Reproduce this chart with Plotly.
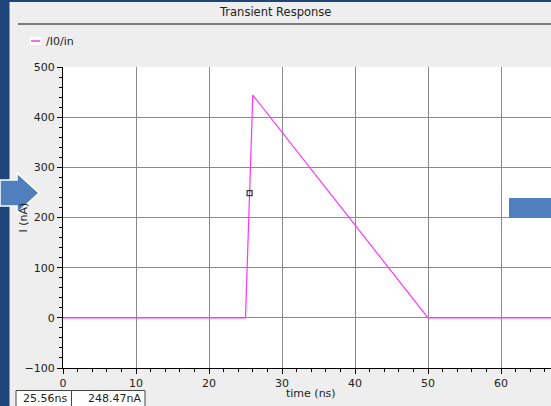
import plotly.graph_objects as go

# ---- data ----
time_ns = [0, 25.0, 26.0, 50.0, 66.85]
current_nA = [0, 0, 444, 0, 0]
cursor_time = [25.56]
cursor_val = [248.47]
x_ticks = [0, 10, 20, 30, 40, 50, 60]
y_ticks = [-100, 0, 100, 200, 300, 400, 500]

W, H = 551, 406
L, R, T, B = 63, 0, 67, 38
PW, PH = W - L - R, H - T - B

def px(x):
    return (x - L) / PW

def py(y):
    return (H - B - y) / PH

FONT = "DejaVu Sans"
PINK = "#ff33ff"

fig = go.Figure()
fig.add_trace(go.Scatter(x=time_ns, y=current_nA, mode="lines",
                         line=dict(color=PINK, width=1.2), name="/I0/in",
                         showlegend=False))
fig.add_trace(go.Scatter(x=cursor_time, y=cursor_val, mode="markers",
                         marker=dict(symbol="square-open", size=5,
                                     color="#333333", line=dict(width=1.2)),
                         showlegend=False))

shapes = []
# left dark strip and top strip
shapes.append(dict(type="rect", xref="paper", yref="paper", x0=px(0), x1=px(9.5),
                   y0=py(406), y1=py(0), fillcolor="#1f4478", line=dict(width=0),
                   layer="above"))
shapes.append(dict(type="rect", xref="paper", yref="paper", x0=px(0), x1=px(551),
                   y0=py(2), y1=py(0), fillcolor="#1f4478", line=dict(width=0),
                   layer="above"))
# title separator line
shapes.append(dict(type="line", xref="paper", yref="paper", x0=px(18), x1=px(551),
                   y0=py(24), y1=py(24), line=dict(color="#555555", width=1.5)))
# legend swatch
shapes.append(dict(type="rect", xref="paper", yref="paper", x0=px(30), x1=px(41),
                   y0=py(45), y1=py(37), fillcolor="white", line=dict(width=0)))
shapes.append(dict(type="line", xref="paper", yref="paper", x0=px(31), x1=px(40),
                   y0=py(41), y1=py(41), line=dict(color=PINK, width=1.5)))
# arrow on left
ax = [0, 17, 17, 39, 17, 17, 0]
ay = [180, 180, 173, 193, 213, 206, 206]
path = "M " + " L ".join(f"{px(a)},{py(b)}" for a, b in zip(ax, ay)) + " Z"
shapes.append(dict(type="path", xref="paper", yref="paper", path=path,
                   fillcolor="#4f7fbd", line=dict(color="white", width=1.5),
                   layer="above"))
# right blue rectangle
shapes.append(dict(type="rect", xref="paper", yref="paper", x0=px(509), x1=px(552),
                   y0=py(218), y1=py(198), fillcolor="#4f7fbd",
                   line=dict(width=0), layer="above"))
# cursor value boxes
shapes.append(dict(type="rect", xref="paper", yref="paper", x0=px(16), x1=px(71.5),
                   y0=py(408), y1=py(390.5), fillcolor="white",
                   line=dict(color="#444444", width=1)))
shapes.append(dict(type="rect", xref="paper", yref="paper", x0=px(71.5), x1=px(145),
                   y0=py(408), y1=py(390.5), fillcolor="white",
                   line=dict(color="#444444", width=1)))

annotations = [
    dict(text="Transient Response", xref="paper", yref="paper", x=px(275), y=py(12),
         showarrow=False, font=dict(family=FONT, size=11.5, color="#222222"),
         xanchor="center", yanchor="middle"),
    dict(text="/I0/in", xref="paper", yref="paper", x=px(44), y=py(41),
         showarrow=False, font=dict(family=FONT, size=11, color="#222222"),
         xanchor="left", yanchor="middle"),
    dict(text="25.56ns", xref="paper", yref="paper", x=px(69), y=py(398.5),
         showarrow=False, font=dict(family=FONT, size=11, color="#222222"),
         xanchor="right", yanchor="middle"),
    dict(text="248.47nA", xref="paper", yref="paper", x=px(143), y=py(398.5),
         showarrow=False, font=dict(family=FONT, size=11, color="#222222"),
         xanchor="right", yanchor="middle"),
    dict(text="I (nA)", xref="paper", yref="paper", x=px(23), y=0.5,
         showarrow=False, textangle=-90,
         font=dict(family=FONT, size=11, color="#222222"),
         xanchor="center", yanchor="middle"),
    dict(text="time (ns)", xref="paper", yref="paper", x=px(311), y=py(394),
         showarrow=False, font=dict(family=FONT, size=11, color="#222222"),
         xanchor="center", yanchor="middle"),
]

fig.update_layout(
    width=W, height=H,
    margin=dict(l=L, r=R, t=T, b=B),
    paper_bgcolor="#eeeeee", plot_bgcolor="white",
    font=dict(family=FONT, size=11, color="#222222"),
    shapes=shapes, annotations=annotations,
    showlegend=False,
)
fig.update_xaxes(range=[0, 66.85], tickvals=x_ticks, showgrid=True,
                 gridcolor="#8a8a8a", gridwidth=1, zeroline=False,
                 showline=True, linecolor="black", linewidth=1,
                 ticks="outside", ticklen=5, tickcolor="black",
                 minor=dict(dtick=2, ticks="outside", ticklen=3,
                            tickcolor="black", showgrid=False),
                 tickfont=dict(family=FONT, size=11, color="#222222"))
fig.update_yaxes(range=[-100, 500], tickvals=y_ticks, showgrid=True,
                 gridcolor="#8a8a8a", gridwidth=1, zeroline=False,
                 showline=True, linecolor="black", linewidth=1,
                 ticks="outside", ticklen=5, tickcolor="black",
                 minor=dict(dtick=20, ticks="outside", ticklen=3,
                            tickcolor="black", showgrid=False),
                 tickfont=dict(family=FONT, size=11, color="#222222"))

fig.write_html("out.html", config={"displayModeBar": False},
               post_script="document.body.style.margin='0';document.body.style.overflow='hidden';")
